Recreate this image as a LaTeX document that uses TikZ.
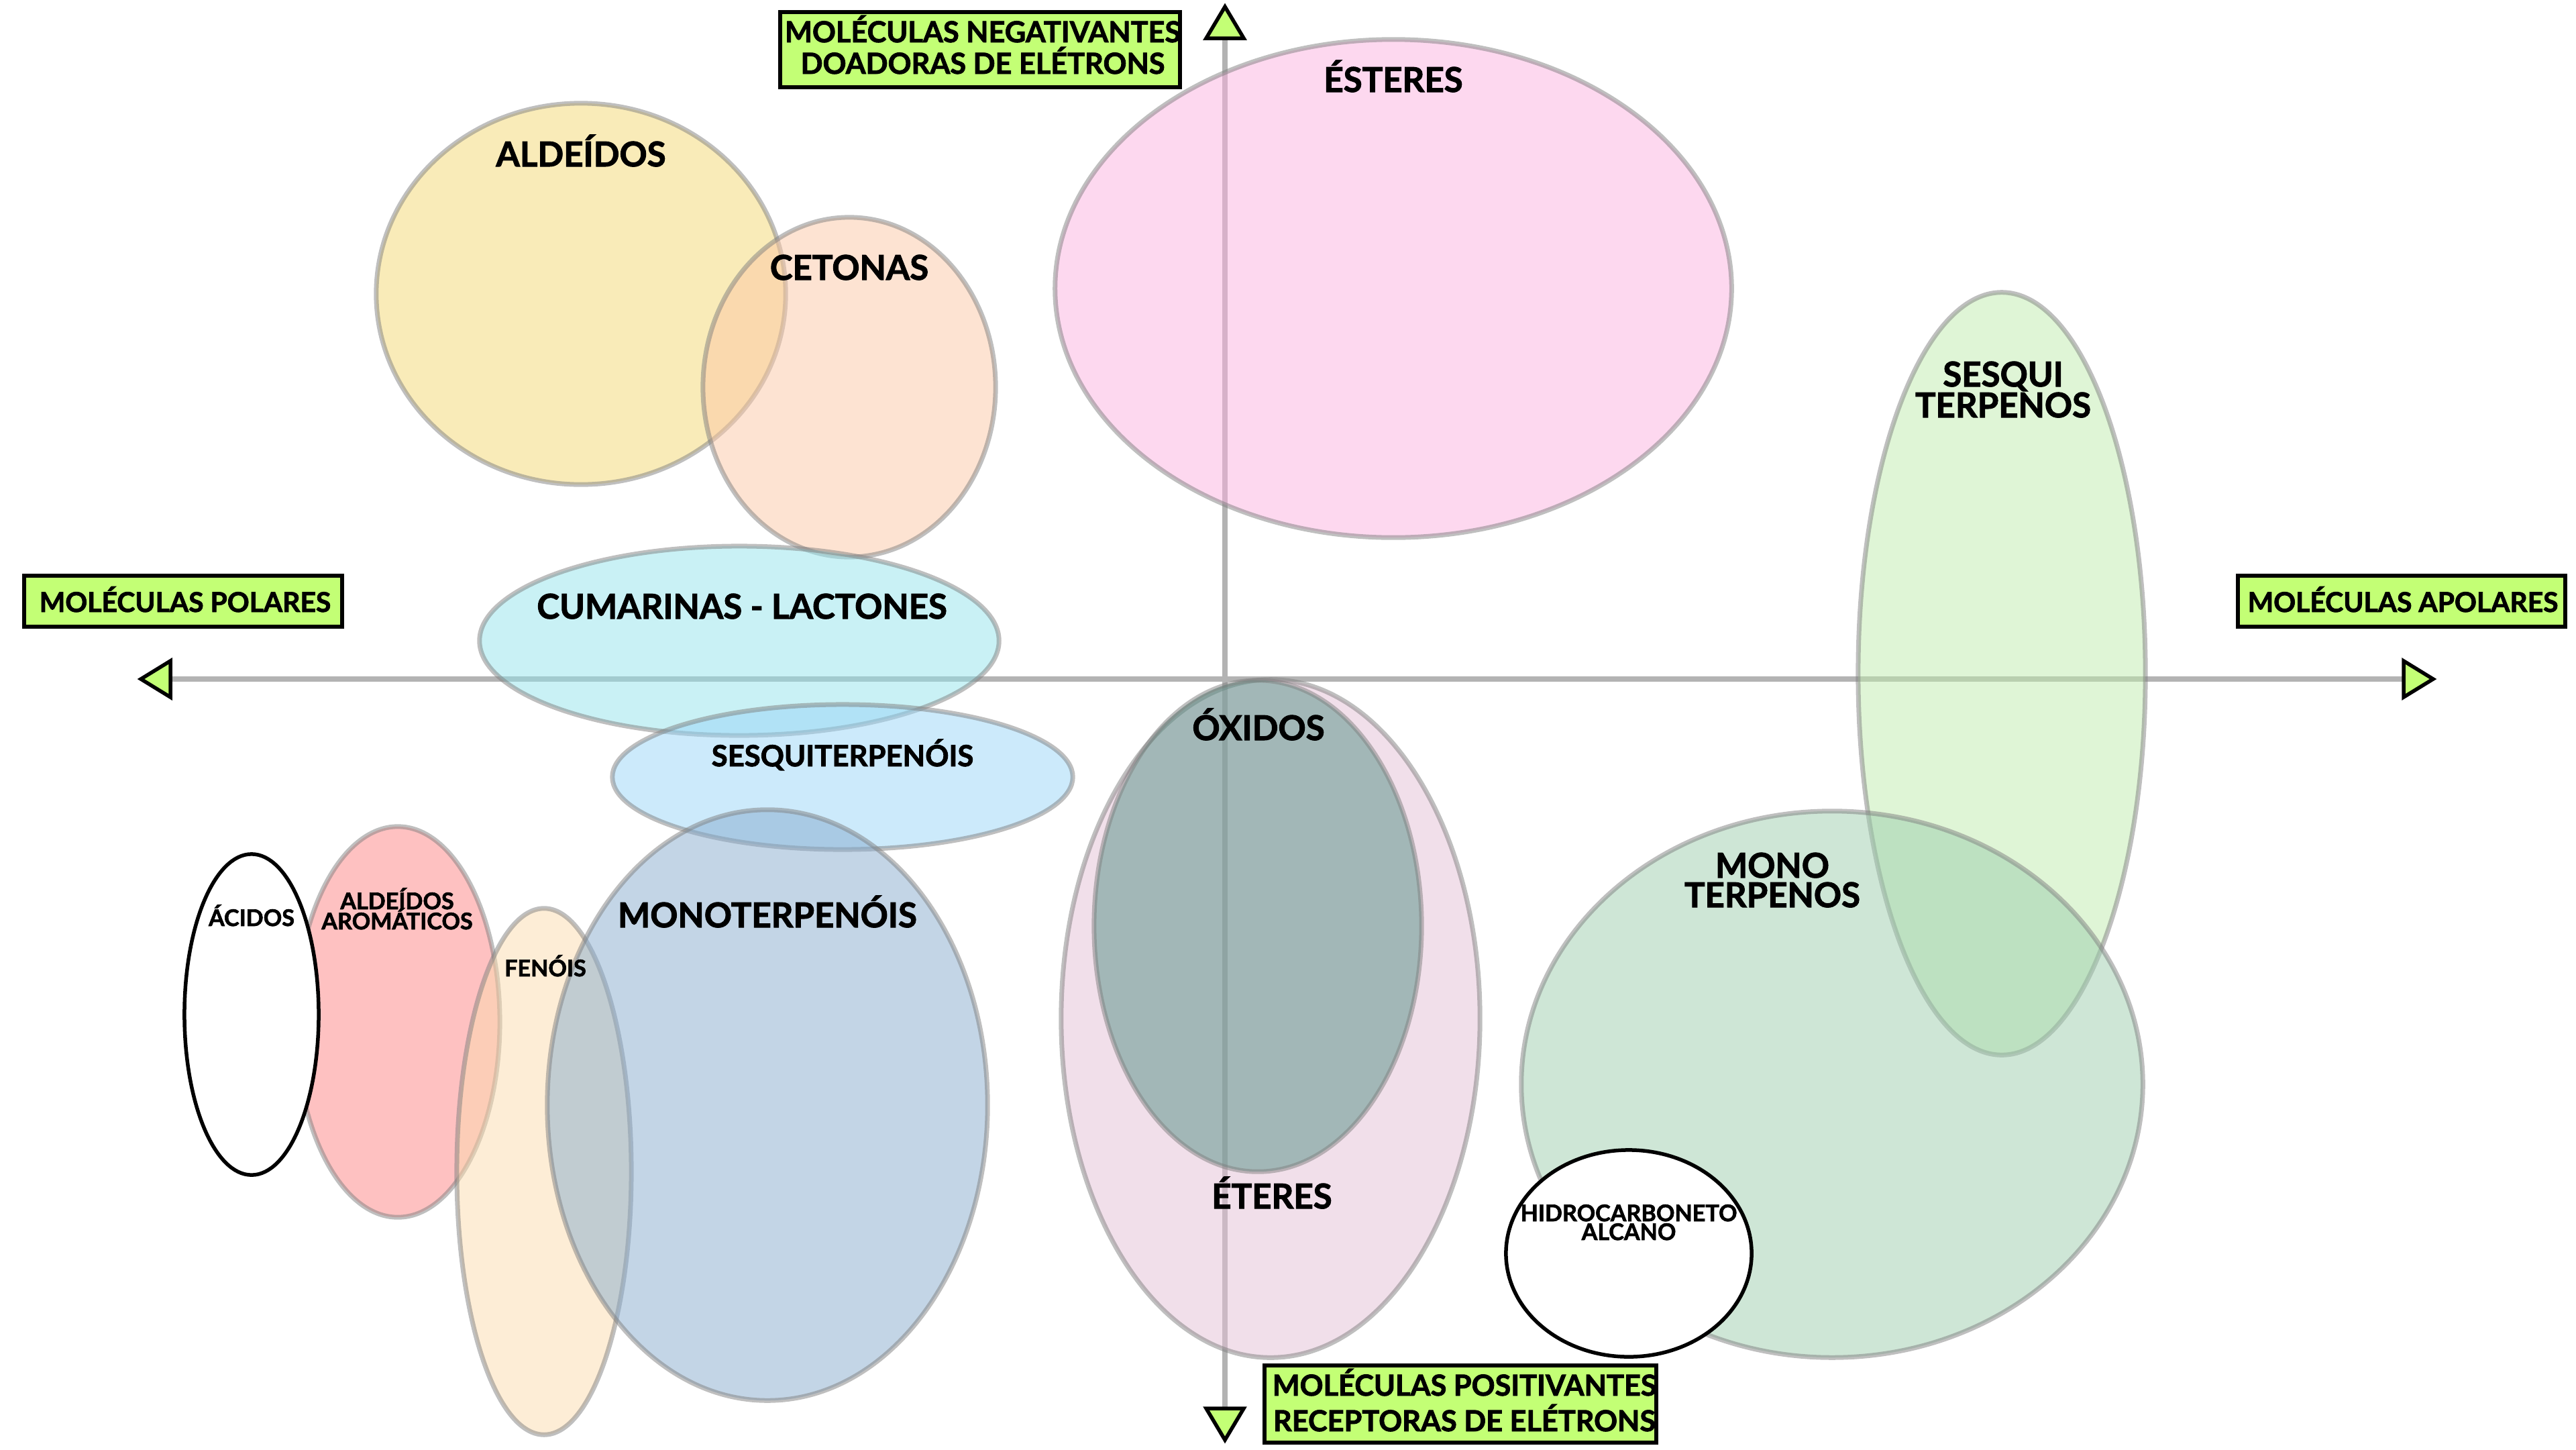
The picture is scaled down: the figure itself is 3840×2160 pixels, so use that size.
\documentclass[tikz,border=0pt]{standalone}
\usepackage{fontspec}
\setmainfont{Lato}[BoldFeatures={FakeBold=2}]
\usetikzlibrary{shapes.geometric}
\definecolor{lime}{RGB}{195,255,117}
\definecolor{axisgray}{RGB}{179,179,179}
\definecolor{cAld}{RGB}{243,215,113}
\definecolor{cCet}{RGB}{251,199,165}
\definecolor{cEst}{RGB}{251,177,223}
\definecolor{cSqT}{RGB}{191,235,173}
\definecolor{cCum}{RGB}{147,227,235}
\definecolor{cSqO}{RGB}{153,213,247}
\definecolor{cEte}{RGB}{227,191,213}
\definecolor{cOxi}{RGB}{85,145,132}
\definecolor{cMoT}{RGB}{157,205,173}
\definecolor{cArom}{RGB}{253,131,131}
\definecolor{cFen}{RGB}{251,219,173}
\definecolor{cMoO}{RGB}{135,171,205}
\tikzset{
  blob/.style={ellipse, draw=black!50, draw opacity=0.5, fill opacity=0.5, line width=0.07cm, inner sep=0pt},
  wblob/.style={ellipse, draw=black, fill=white, line width=0.055cm, inner sep=0pt},
  axisline/.style={draw=axisgray, line width=0.075cm},
  tri/.style={draw=black, fill=lime, line width=0.055cm, line join=miter},
  box/.style={draw=black, fill=lime, line width=0.06cm, inner sep=0pt},
  tbig/.style={font=\fontsize{14.5pt}{14pt}\selectfont\bfseries, anchor=base, inner sep=0pt},
  tmid/.style={font=\fontsize{12.4pt}{12pt}\selectfont\bfseries, anchor=base, inner sep=0pt},
  tsmall/.style={font=\fontsize{9.7pt}{9pt}\selectfont\bfseries, anchor=base, inner sep=0pt},
  tbox/.style={font=\fontsize{11.6pt}{11pt}\selectfont\bfseries, anchor=base, inner sep=0pt},
  tboxb/.style={font=\fontsize{12.3pt}{12pt}\selectfont\bfseries, anchor=base, inner sep=0pt},
}
\begin{document}
\begin{tikzpicture}[x=0.01cm, y=-0.01cm]
\useasboundingbox (0,0) rectangle (3840,2160);
% axes
\coordinate (axL) at (254,1012);
\coordinate (axR) at (3583,1012);
\coordinate (axT) at (1826,57);
\coordinate (axB) at (1826,2099);
\draw[axisline] (axL) -- (axR);
\draw[axisline] (axT) -- (axB);
% ellipses
\node[blob, fill=cEst, minimum width=10.08cm, minimum height=7.42cm] (eEst) at (2077,430) {};
\node[blob, fill=cAld, minimum width=6.10cm, minimum height=5.68cm] (eAld) at (866,438) {};
\node[blob, fill=cCet, minimum width=4.36cm, minimum height=5.06cm] (eCet) at (1266,577) {};
\node[blob, fill=cCum, minimum width=7.74cm, minimum height=2.82cm] (eCum) at (1102,955) {};
\node[blob, fill=cSqO, minimum width=6.86cm, minimum height=2.16cm] (eSqO) at (1256,1158) {};
\node[blob, fill=cEte, minimum width=6.24cm, minimum height=10.10cm] (eEte) at (1894,1518) {};
\node[blob, fill=cOxi, minimum width=4.88cm, minimum height=7.32cm] (eOxi) at (1875,1380) {};
\node[blob, fill=cSqT, minimum width=4.28cm, minimum height=11.36cm] (eSqT) at (2984,1004) {};
\node[blob, fill=cMoT, minimum width=9.26cm, minimum height=8.14cm] (eMoT) at (2731,1616) {};
\node[wblob, minimum width=3.66cm, minimum height=3.08cm] (eHid) at (2428,1868) {};
\node[blob, fill=cArom, minimum width=3.04cm, minimum height=5.82cm] (eArom) at (593,1523) {};
\node[blob, fill=cFen, minimum width=2.60cm, minimum height=7.84cm] (eFen) at (811,1746) {};
\node[blob, fill=cMoO, minimum width=6.56cm, minimum height=8.80cm] (eMoO) at (1144,1647) {};
\node[wblob, minimum width=2.00cm, minimum height=4.78cm] (eAci) at (375,1512) {};
% arrow heads
\draw[tri] (1826,10) -- (1798,57) -- (1854,57) -- cycle;
\draw[tri] (1826,2146) -- (1798,2099) -- (1854,2099) -- cycle;
\draw[tri] (210,1012) -- (254,985) -- (254,1039) -- cycle;
\draw[tri] (3627,1012) -- (3583,985) -- (3583,1039) -- cycle;
% boxes
\node[box, minimum width=5.96cm, minimum height=1.12cm] (bNeg) at (1461,74) {};
\node[box, minimum width=5.83cm, minimum height=1.15cm] (bPos) at (2177,2092) {};
\node[box, minimum width=4.74cm, minimum height=0.76cm] (bPol) at (273,896) {};
\node[box, minimum width=4.88cm, minimum height=0.76cm] (bApo) at (3580,896) {};
\node[tboxb] (tNeg1) at (1465,63) {MOLÉCULAS NEGATIVANTES};
\node[tboxb] (tNeg2) at (1465,110) {DOADORAS DE ELÉTRONS};
\node[tboxb] (tPos1) at (2183,2080) {MOLÉCULAS POSITIVANTES};
\node[tboxb] (tPos2) at (2183,2133) {RECEPTORAS DE ELÉTRONS};
\node[tbox] (tPol) at (276,912) {MOLÉCULAS POLARES};
\node[tbox] (tApo) at (3582,912) {MOLÉCULAS APOLARES};
% labels
\node[tbig] (lAld) at (866,248) {ALDEÍDOS};
\node[tbig] (lCet) at (1266,417) {CETONAS};
\node[tbig] (lEst) at (2077,137) {ÉSTERES};
\node[tbig] (lSqT1) at (2986,576) {SESQUI};
\node[tbig] (lSqT2) at (2986,622) {TERPENOS};
\node[tbig] (lCum) at (1106,922) {CUMARINAS - LACTONES};
\node[tmid] (lSqO) at (1256,1142) {SESQUITERPENÓIS};
\node[tbig] (lOxi) at (1876,1103) {ÓXIDOS};
\node[tbig] (lEte) at (1896,1801) {ÉTERES};
\node[tbig] (lMoT1) at (2642,1308) {MONO};
\node[tbig] (lMoT2) at (2642,1352) {TERPENOS};
\node[tbig] (lMoO) at (1144,1382) {MONOTERPENÓIS};
\node[tsmall] (lHid1) at (2428,1820) {HIDROCARBONETO};
\node[tsmall] (lHid2) at (2428,1848) {ALCANO};
\node[tsmall] (lAci) at (375,1380) {ÁCIDOS};
\node[tsmall] (lArom1) at (592,1355) {ALDEÍDOS};
\node[tsmall] (lArom2) at (592,1385) {AROMÁTICOS};
\node[tsmall] (lFen) at (813,1455) {FENÓIS};
\end{tikzpicture}
\end{document}
